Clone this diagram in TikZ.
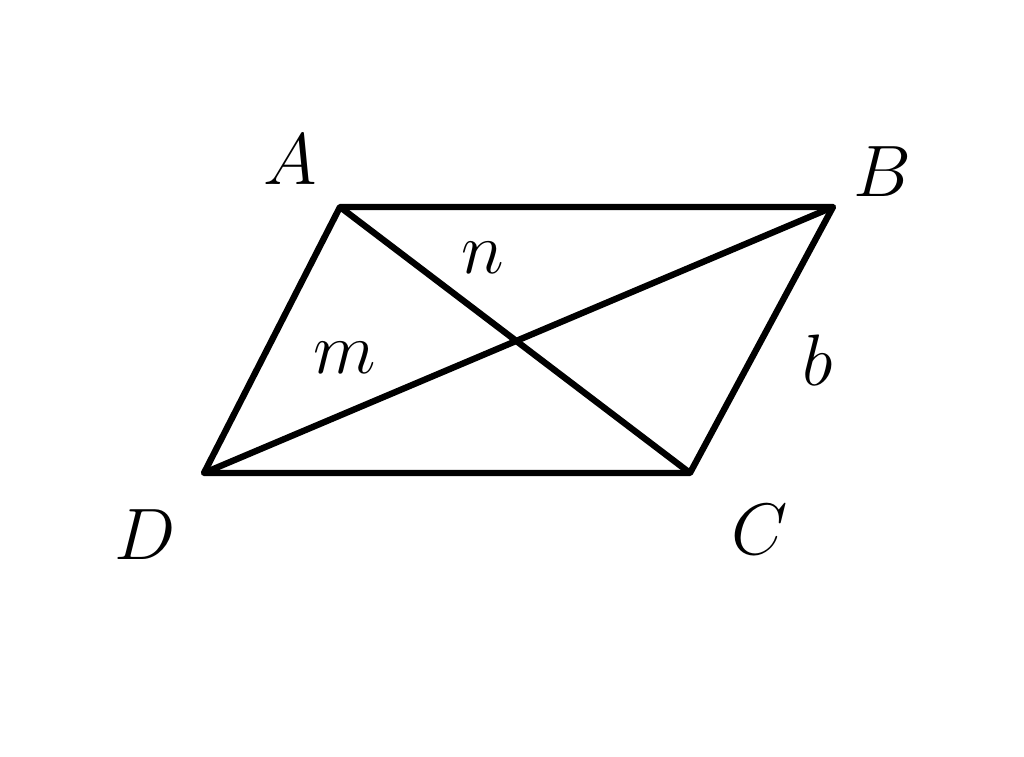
\documentclass[tikz,border=0pt]{standalone}
\usepackage{amsmath,amssymb}
\usetikzlibrary{positioning}

\begin{document}
\begin{tikzpicture}[line width=1.8pt, line join=round, every node/.style={font=\fontsize{21}{24}\selectfont}]
	\useasboundingbox (0,0) rectangle (10.24,7.57);
	\coordinate	(A)	at	(3.40,5.50);
	\coordinate	(B)	at	(8.33,5.50);
	\coordinate	(C)	at	(6.90,2.84);
	\coordinate	(D)	at	(2.04,2.84);
	
	\node	(lA)	at	(2.90,5.97)	{$A$};
	\node	(lB)	at	(8.82,5.85)	{$B$};
	\node	(lC)	at	(7.60,2.27)	{$C$};
	\node	(lD)	at	(1.45,2.22)	{$D$};
	\node	(ln)	at	(4.83,4.99)	{$n$};
	\node	(lm)	at	(3.45,3.99)	{$m$};
	\node	(lb)	at	(8.18,3.97)	{$b$};
	
	\draw	(A)	--	(B)	--	(C)	--	(D)	--	cycle;
	\draw	(A)	--	(C);
	\draw	(B)	--	(D);
\end{tikzpicture}
\end{document}
